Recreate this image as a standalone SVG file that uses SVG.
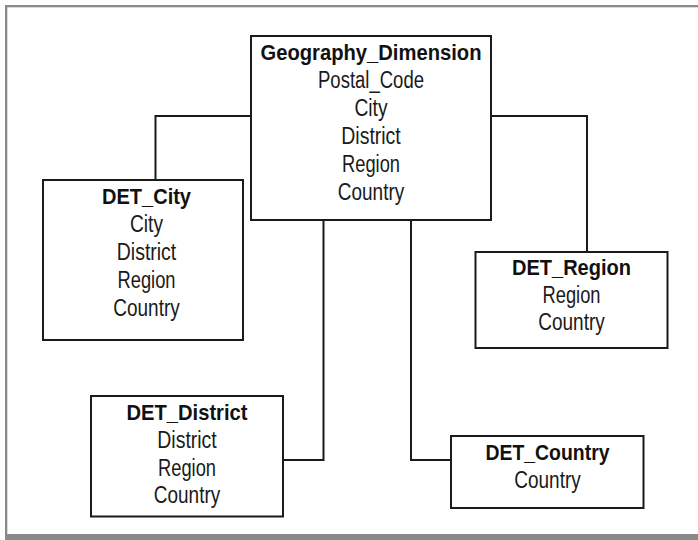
<svg xmlns="http://www.w3.org/2000/svg" width="698" height="540" viewBox="0 0 698 540">
  <style>
    .box { fill: #ffffff; stroke: #1a1a1a; stroke-width: 2; }
    .wire { fill: none; stroke: #1a1a1a; stroke-width: 2; }
    text { font-family: "Liberation Sans", Arial, sans-serif; font-size: 23.5px; fill: #1a1a1a; text-anchor: middle; }
    .title { font-weight: bold; font-size: 22px; fill: #111111; }
  </style>
  <rect x="0" y="0" width="698" height="540" fill="#ffffff"/>
  <!-- frame -->
  <g id="frame" fill="#8a8a8a">
    <rect x="5" y="5" width="693" height="2.3"/>
    <rect x="5" y="5" width="2.3" height="530"/>
    <rect x="5" y="534" width="693" height="6"/>
  </g>

  <!-- connectors -->
  <g id="connectors">
    <polyline class="wire" points="251,116 155.5,116 155.5,180"/>
    <polyline class="wire" points="491,116 587,116 587,252"/>
    <polyline class="wire" points="323.5,220 323.5,460 283,460"/>
    <polyline class="wire" points="411,220 411,460 451,460"/>
  </g>

  <g id="geography_dimension">
    <rect class="box" x="251" y="36" width="240" height="184"/>
    <text class="title" x="371" y="60" textLength="221" lengthAdjust="spacingAndGlyphs">Geography_Dimension</text>
    <text x="371" y="88" textLength="106" lengthAdjust="spacingAndGlyphs">Postal_Code</text>
    <text x="371" y="116" textLength="33" lengthAdjust="spacingAndGlyphs">City</text>
    <text x="371" y="144" textLength="59.5" lengthAdjust="spacingAndGlyphs">District</text>
    <text x="371" y="172" textLength="58" lengthAdjust="spacingAndGlyphs">Region</text>
    <text x="371" y="200" textLength="66.5" lengthAdjust="spacingAndGlyphs">Country</text>
  </g>

  <g id="det_city">
    <rect class="box" x="43" y="180" width="200" height="160"/>
    <text class="title" x="146.5" y="204" textLength="89" lengthAdjust="spacingAndGlyphs">DET_City</text>
    <text x="146.5" y="232" textLength="33" lengthAdjust="spacingAndGlyphs">City</text>
    <text x="146.5" y="260" textLength="59.5" lengthAdjust="spacingAndGlyphs">District</text>
    <text x="146.5" y="288" textLength="58" lengthAdjust="spacingAndGlyphs">Region</text>
    <text x="146.5" y="316" textLength="66.5" lengthAdjust="spacingAndGlyphs">Country</text>
  </g>

  <g id="det_region">
    <rect class="box" x="475.5" y="252" width="192" height="96"/>
    <text class="title" x="571.5" y="275" textLength="119" lengthAdjust="spacingAndGlyphs">DET_Region</text>
    <text x="571.5" y="302.5" textLength="58" lengthAdjust="spacingAndGlyphs">Region</text>
    <text x="571.5" y="330" textLength="66.5" lengthAdjust="spacingAndGlyphs">Country</text>
  </g>

  <g id="det_district">
    <rect class="box" x="91" y="396" width="192" height="120.5"/>
    <text class="title" x="187" y="419.5" textLength="121" lengthAdjust="spacingAndGlyphs">DET_District</text>
    <text x="187" y="448" textLength="59.5" lengthAdjust="spacingAndGlyphs">District</text>
    <text x="187" y="475.5" textLength="58" lengthAdjust="spacingAndGlyphs">Region</text>
    <text x="187" y="503" textLength="66.5" lengthAdjust="spacingAndGlyphs">Country</text>
  </g>

  <g id="det_country">
    <rect class="box" x="451" y="436" width="192.5" height="72"/>
    <text class="title" x="547.5" y="460" textLength="124" lengthAdjust="spacingAndGlyphs">DET_Country</text>
    <text x="547.5" y="487.5" textLength="66.5" lengthAdjust="spacingAndGlyphs">Country</text>
  </g>
</svg>
